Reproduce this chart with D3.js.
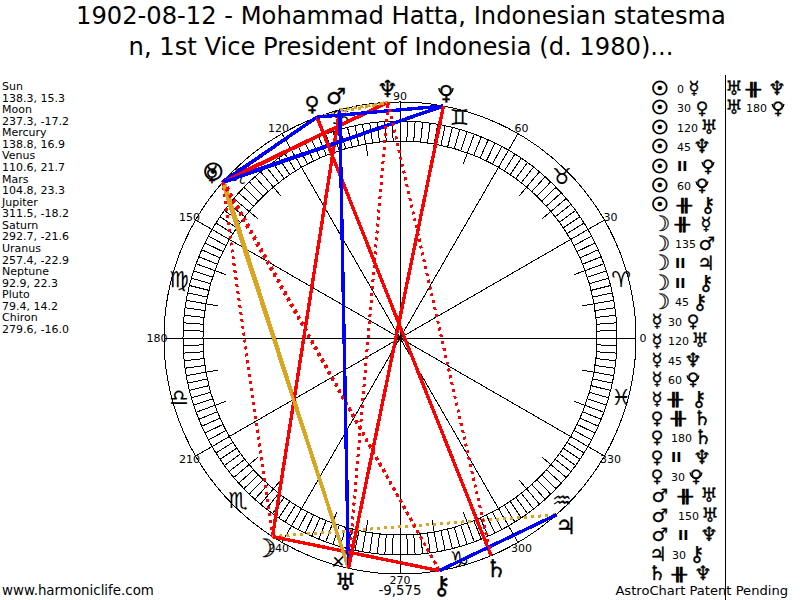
<!DOCTYPE html>
<html>
<head>
<meta charset="utf-8">
<title>Astro chart</title>
<script src="https://cdn.jsdelivr.net/npm/d3@7"></script>
<style>
html, body { margin: 0; padding: 0; background: #fff; overflow: hidden; }
text { font-family: "DejaVu Sans", sans-serif; fill: #000; }
</style>
</head>
<body>
<script>
var titleLines = ["1902-08-12 - Mohammad Hatta, Indonesian statesma",
                  "n, 1st Vice President of Indonesia (d. 1980)..."];

var planets      = ["Sun", "Moon", "Mercury", "Venus", "Mars", "Jupiter", "Saturn", "Uranus", "Neptune", "Pluto", "Chiron"];
var longitudes   = [138.3, 237.3, 138.8, 110.6, 104.8, 311.5, 292.7, 257.4, 92.9, 79.4, 279.6];
var declinations = ["15.3", "-17.2", "16.9", "21.7", "23.3", "-18.2", "-21.6", "-22.9", "22.3", "14.2", "-16.0"];
var planetGlyphs = ["\u2609", "\u263D", "\u263F", "\u2640", "\u2642", "\u2643", "\u2644", "\u2645", "\u2646", "\u2640", "\u26B7"];
// DejaVu draws some of these small, so each one gets its own size factor
var glyphScale   = [1.3, 1.4, 1.2, 1.15, 1.25, 1.3, 1.35, 1.3, 1.3, 1.15, 1.4];

var signGlyphs = ["\u2648", "\u2649", "\u264A", "\u264B", "\u264C", "\u264D", "\u264E", "\u264F", "\u2650", "\u2651", "\u2652", "\u2653"];
var signAngles = [15, 45, 75, 105, 135, 165, 195, 225, 255, 285, 315, 345];
var degreeLabels = [0, 30, 60, 90, 120, 150, 180, 210, 240, 270, 300, 330];

// aspect table, in the order the page lists (and draws) them
var aspectFrom = ["Sun", "Sun", "Sun", "Sun", "Sun", "Sun", "Sun",
                  "Moon", "Moon", "Moon", "Moon", "Moon",
                  "Mercury", "Mercury", "Mercury", "Mercury", "Mercury",
                  "Venus", "Venus", "Venus", "Venus",
                  "Mars", "Mars", "Mars",
                  "Jupiter", "Saturn", "Uranus", "Uranus"];
var aspectKind = ["0", "30", "120", "45", "par", "60", "contra",
                  "contra", "135", "par", "par", "45",
                  "30", "120", "45", "60", "contra",
                  "contra", "180", "par", "30",
                  "contra", "150", "par",
                  "30", "contra", "contra", "180"];
var aspectTo   = ["Mercury", "Venus", "Uranus", "Neptune", "Pluto", "Pluto", "Chiron",
                  "Mercury", "Mars", "Jupiter", "Chiron", "Chiron",
                  "Venus", "Uranus", "Neptune", "Pluto", "Chiron",
                  "Saturn", "Saturn", "Neptune", "Pluto",
                  "Uranus", "Uranus", "Neptune",
                  "Chiron", "Neptune", "Neptune", "Pluto"];

var kindColor = {"0": "#ff0000", "30": "#0000ff", "45": "#ff0000", "60": "#0000ff", "120": "#daa520",
                 "135": "#ff0000", "150": "#0000ff", "180": "#ff0000", "par": "#daa520", "contra": "#ff0000"};

var cx = 400, cy = 338;
var rOuter = 236, rBandOut = 217, rBandIn = 197, rTick = 185;

var svg = d3.select("body").append("svg")
    .attr("width", 800)
    .attr("height", 600);

// degrees run counter clockwise from 3 o'clock
var angle = d3.scaleLinear().domain([0, 360]).range([Math.PI / 2, Math.PI / 2 - 2 * Math.PI]);
function polar(deg, r) {
    var p = d3.pointRadial(angle(deg), r);
    return [cx + p[0], cy + p[1]];
}
var lineGen = d3.line();

function idx(name) { return planets.indexOf(name); }
function dotted(kind) { return kind === "par" || kind === "contra"; }

// title
svg.selectAll("text.title").data(titleLines).enter().append("text")
    .attr("class", "title")
    .attr("x", 401)
    .attr("y", function(d, i) { return 24 + i * 31; })
    .attr("text-anchor", "middle")
    .style("font-size", "24.2px")
    .text(function(d) { return d; });

// planet positions on the left
var leftRows = [];
planets.forEach(function(p, i) {
    leftRows.push(p);
    leftRows.push(longitudes[i].toFixed(1) + ", " + declinations[i]);
});
svg.selectAll("text.left").data(leftRows).enter().append("text")
    .attr("class", "left")
    .attr("x", 2)
    .attr("y", function(d, i) { return 90 + i * 11.57; })
    .style("font-size", "11px")
    .text(function(d) { return d; });

// wheel
var wheel = svg.append("g").attr("fill", "none").attr("stroke", "#000").attr("stroke-width", 1)
    .attr("shape-rendering", "crispEdges");

wheel.selectAll("circle").data([rOuter, rBandOut, rBandIn]).enter().append("circle")
    .attr("cx", cx).attr("cy", cy)
    .attr("r", function(d) { return d; });

wheel.selectAll("path.band").data(d3.range(0, 360, 2)).enter().append("path")
    .attr("class", "band")
    .attr("d", function(d) { return lineGen([polar(d, rBandIn), polar(d, rBandOut)]); });

wheel.selectAll("path.tick").data(d3.range(0, 360, 10)).enter().append("path")
    .attr("class", "tick")
    .attr("d", function(d) { return lineGen([polar(d, rTick), polar(d, rBandIn)]); });

wheel.selectAll("path.spoke").data(degreeLabels).enter().append("path")
    .attr("class", "spoke")
    .attr("d", function(d) { return lineGen([[cx, cy], polar(d, rOuter)]); });

svg.selectAll("text.deg").data(degreeLabels).enter().append("text")
    .attr("class", "deg")
    .attr("x", function(d) { return polar(d, 243)[0]; })
    .attr("y", function(d) { return polar(d, 242)[1] + 4; })
    .attr("text-anchor", "middle")
    .style("font-size", "11px")
    .text(function(d) { return d; });

svg.selectAll("text.sign").data(signGlyphs).enter().append("text")
    .attr("class", "sign")
    .attr("x", function(d, i) { return polar(signAngles[i], 229)[0]; })
    .attr("y", function(d, i) { return polar(signAngles[i], 229)[1] + 8; })
    .attr("text-anchor", "middle")
    .style("font-size", "22px")
    .text(function(d) { return d; });

// aspect lines
svg.selectAll("path.aspect").data(aspectKind).enter().append("path")
    .attr("class", "aspect")
    .attr("fill", "none")
    .attr("shape-rendering", "crispEdges")
    .attr("stroke-width", function(d) { return dotted(d) ? 3 : 3.4; })
    .attr("stroke", function(d) { return kindColor[d]; })
    .attr("stroke-dasharray", function(d) { return dotted(d) ? "3,4" : null; })
    .attr("d", function(d, i) {
        return lineGen([polar(longitudes[idx(aspectFrom[i])], rOuter),
                        polar(longitudes[idx(aspectTo[i])], rOuter)]);
    });

svg.append("circle").attr("cx", cx).attr("cy", cy).attr("r", 2.5).attr("fill", "#000");

// a planet symbol centred on x,y; Pluto gets a dish under the ring of the Venus sign
function glyph(g, name, x, y, size) {
    var i = idx(name);
    var s = size * glyphScale[i];
    g.append("text")
        .attr("x", x).attr("y", y + 0.36 * s)
        .attr("text-anchor", "middle")
        .style("font-size", s + "px")
        .style("stroke", "#000")
        .style("stroke-width", name === "Sun" ? 0.9 : 0.3)
        .text(planetGlyphs[i]);
    if(name === "Pluto") {
        g.append("path")
            .attr("fill", "none").attr("stroke", "#000").attr("stroke-width", 1)
            .attr("d", d3.arc()({innerRadius: 0.34 * s, outerRadius: 0.34 * s,
                                 startAngle: Math.PI / 2, endAngle: 3 * Math.PI / 2}))
            .attr("transform", "translate(" + x + "," + (y - 0.2 * s) + ")");
    }
}

var planetLayer = svg.append("g");
planets.forEach(function(p, i) {
    var pos = polar(longitudes[i], 250);
    glyph(planetLayer, p, pos[0], pos[1], 18);
});

// aspect list on the right
var firstGlyphX = {Sun: 660, Moon: 661, Mercury: 657, Venus: 657, Mars: 660, Jupiter: 658, Saturn: 657, Uranus: 734};
var kindX = {Sun: 677, Moon: 675, Mercury: 668, Venus: 671, Mars: 678, Jupiter: 672, Saturn: 672, Uranus: 746};
var kindWidth = {"0": 17, "30": 25, "45": 25, "60": 25, "120": 32, "135": 32, "150": 32, "180": 32, "par": 31, "contra": 31};

var rowsInFirstColumn = 26;
var list = svg.append("g");
aspectKind.forEach(function(kind, i) {
    var row = i < rowsInFirstColumn ? i : i - rowsInFirstColumn;
    var y = 88 + row * 19.4;
    var from = aspectFrom[i];
    var x = kindX[from];
    glyph(list, from, firstGlyphX[from], y, 15);
    if(kind === "par") {
        list.append("text").attr("x", x).attr("y", y + 5.5)
            .style("font-size", "14px").style("font-weight", "bold").text("II");
    }
    else if(kind === "contra") {
        list.append("text")
            .attr("transform", "translate(" + x + "," + (y + 5.5) + ") scale(1.6,0.85)")
            .style("font-size", "15px").style("stroke", "#000").style("stroke-width", 0.6)
            .text("\u256B");
    }
    else {
        list.append("text").attr("x", x).attr("y", y + 5).style("font-size", "11px").text(kind);
    }
    glyph(list, aspectTo[i], x + kindWidth[kind], y, 15);
});

svg.append("line")
    .attr("x1", 725.5).attr("x2", 725.5)
    .attr("y1", 75).attr("y2", 600)
    .attr("stroke", "#000");

// footer
svg.append("text").attr("x", 2).attr("y", 595).style("font-size", "13.4px").text("www.harmoniclife.com");
svg.append("text").attr("x", 400).attr("y", 595).attr("text-anchor", "middle").style("font-size", "13.3px").text("-9,575");
svg.append("text").attr("x", 788).attr("y", 595).attr("text-anchor", "end").style("font-size", "13.1px").text("AstroChart Patent Pending");
</script>
</body>
</html>
